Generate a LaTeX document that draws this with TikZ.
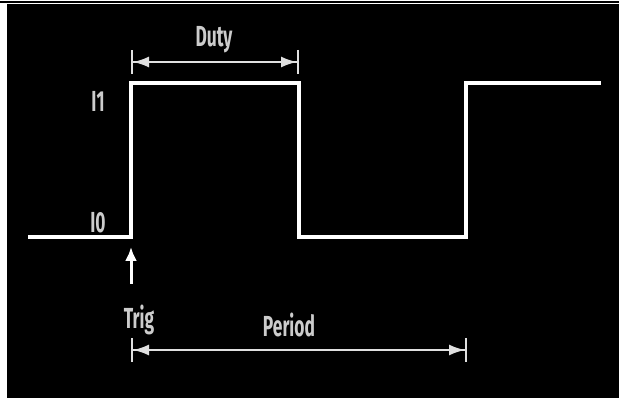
\documentclass[tikz,border=0pt]{standalone}
\usepackage{fontspec}
\newfontfamily\narrowsans[FakeStretch=0.6]{Fira Sans}
\usetikzlibrary{arrows.meta, positioning}
\usepackage{xcolor}
\definecolor{labelgrey}{gray}{0.80}
\definecolor{dimgrey}{gray}{0.88}
\tikzset{
    wave/.style={line width=4pt, draw=white, line join=miter},
    dimarrow/.style={{Bar[width=24pt,line width=2pt]Latex[length=16pt,width=11pt]}-{Latex[length=16pt,width=11pt]Bar[width=24pt,line width=2pt]}, line width=2pt, draw=dimgrey},
    trigarrow/.style={-{Latex[length=14pt,width=12pt]}, line width=3pt, draw=white},
    sigtext/.style={text=labelgrey, font=\narrowsans\bfseries\fontsize{29}{30}\selectfont, inner sep=0pt, anchor=base}
}

\begin{document}
\begin{tikzpicture}[x=1pt, y=-1pt]
            \useasboundingbox (0,0) rectangle (619,398);
            % frame
            \fill[white] (0,0) rectangle (619,398);
            \fill[black] (0,1) rectangle (619,3);
            \fill[black] (7,4.5) rectangle (619,398);

            % waveform corners
            \coordinate (w0) at (28,237);
            \coordinate (w1) at (131,237);
            \coordinate (w2) at (131,83);
            \coordinate (w3) at (299,83);
            \coordinate (w4) at (299,237);
            \coordinate (w5) at (466,237);
            \coordinate (w6) at (466,83);
            \coordinate (w7) at (601,83);
            \draw[wave] (w0) -- (w1) -- (w2) -- (w3) -- (w4) -- (w5) -- (w6) -- (w7);

            % level labels
            \node[sigtext] (one) at (98,112) {I1};
            \node[sigtext] (zero) at (98,233) {I0};

            % duty
            \coordinate (dutyL) at (131,62);
            \coordinate (dutyR) at (299,62);
            \draw[dimarrow] (dutyL) -- (dutyR);
            \node[sigtext] (duty) at (214,47) {Duty};

            % trigger
            \coordinate (trigfoot) at (131,284);
            \coordinate (trighead) at (131,247);
            \draw[trigarrow] (trigfoot) -- (trighead);
            \node[sigtext] (trig) at (139,328) {Trig};

            % period
            \coordinate (periodL) at (131,350);
            \coordinate (periodR) at (467,350);
            \draw[dimarrow] (periodL) -- (periodR);
            \node[sigtext] (period) at (289,337) {Period};
        \end{tikzpicture}
\end{document}
